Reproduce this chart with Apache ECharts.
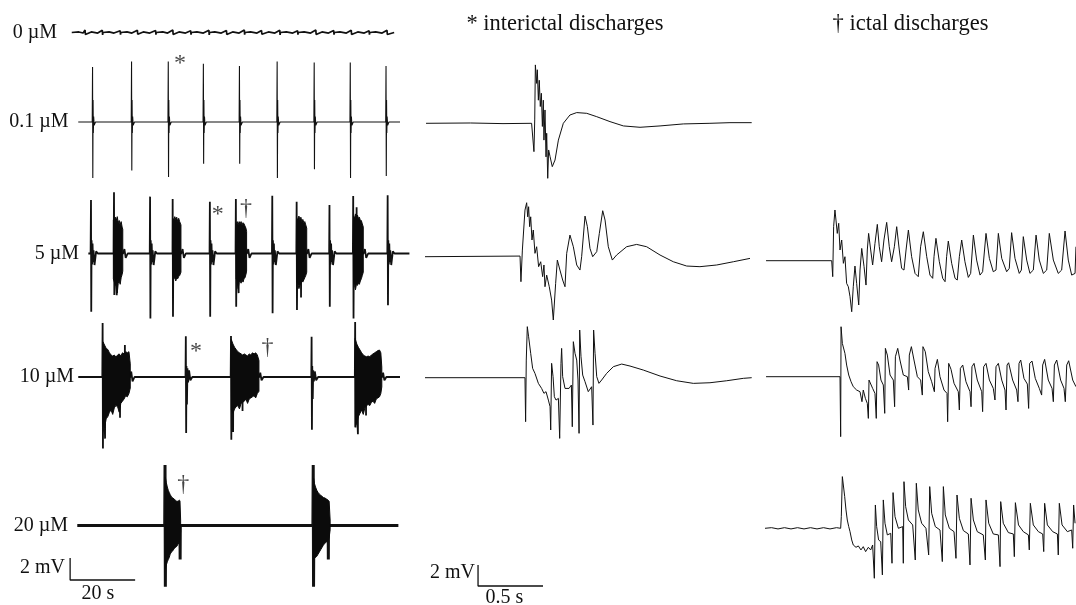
<!DOCTYPE html>
<html>
<head>
<meta charset="utf-8">
<title>Field potential recordings</title>
<script src="https://cdn.jsdelivr.net/npm/echarts@6/dist/echarts.min.js"></script>
<style>
  html, body { margin: 0; padding: 0; background: #ffffff; }
  #chart { width: 1076px; height: 605px; }
</style>
</head>
<body>
<div id="chart"></div>
<script>
// ---------- recordings: [time (s), potential (mV)] ----------
// long recordings (left column), one per concentration
const concentrations = ['0 \u00b5M', '0.1 \u00b5M', '5 \u00b5M', '10 \u00b5M', '20 \u00b5M'];

const longTrace0 = [[-1,0],[1.2,0.05],[2.5,-0.05],[3.1,0.22],[3.2,-0.18],[3.3,0],[5,0.05],[7,-0.05],[8.4,0.2],[8.5,-0.22],[8.6,0],[10.5,0.05],[12,-0.05],[13.9,0.16],[14,-0.2],[14.1,0],[16,0.05],[17.5,-0.05],[19.2,0.2],[19.3,-0.16],[19.4,0],[21,0.05],[23,-0.05],[24.8,0.18],[24.9,-0.2],[25,0],[27,0.05],[28.5,-0.05],[30.1,0.22],[30.2,-0.18],[30.3,0],[32,0.05],[34,-0.05],[35.6,0.16],[35.7,-0.2],[35.8,0],[37.5,0.05],[39.5,-0.05],[41.2,0.2],[41.3,-0.22],[41.4,0],[43,0.05],[45,-0.05],[46.6,0.18],[46.7,-0.18],[46.8,0],[48.5,0.05],[50.5,-0.05],[52.1,0.22],[52.2,-0.2],[52.3,0],[54,0.05],[56,-0.05],[57.4,0.18],[57.5,-0.16],[57.6,0],[59.5,0.05],[61.5,-0.05],[63,0.2],[63.1,-0.22],[63.2,0],[65,0.05],[67,-0.05],[68.5,0.16],[68.6,-0.2],[68.7,0],[70.5,0.05],[72.5,-0.05],[74.1,0.22],[74.2,-0.18],[74.3,0],[76,0.05],[78,-0.05],[79.6,0.18],[79.7,-0.2],[79.8,0],[81.5,0.05],[83.5,-0.05],[85,0.2],[85.1,-0.18],[85.2,0],[87,0.05],[89,-0.05],[90.5,0.16],[90.6,-0.2],[90.7,0],[92.5,0.05],[94.5,-0.05],[96,0.2],[96.1,-0.18],[96.2,0],[98.2,0]];

const longTrace01 = [[1.0,0],
  [5.3,0],[5.4,5.0],[5.48,-5.1],[5.56,2.0],[5.64,-1.0],[5.74,0.5],[5.9,-0.3],[6.3,0],
  [17.3,0],[17.4,5.5],[17.48,-4.4],[17.56,2.0],[17.64,-1.0],[17.74,0.5],[17.9,-0.3],[18.3,0],
  [28.6,0],[28.7,5.5],[28.78,-5.0],[28.86,2.0],[28.94,-1.0],[29.04,0.5],[29.2,-0.3],[29.6,0],
  [39.4,0],[39.5,5.3],[39.58,-3.8],[39.66,2.0],[39.74,-1.0],[39.84,0.5],[40.0,-0.3],[40.4,0],
  [50.5,0],[50.6,5.1],[50.68,-3.8],[50.76,2.0],[50.84,-1.0],[50.94,0.5],[51.1,-0.3],[51.5,0],
  [62.1,0],[62.2,5.5],[62.28,-5.1],[62.36,2.0],[62.44,-1.0],[62.54,0.5],[62.7,-0.3],[63.1,0],
  [73.5,0],[73.6,5.4],[73.68,-4.3],[73.76,2.0],[73.84,-1.0],[73.94,0.5],[74.1,-0.3],[74.5,0],
  [84.6,0],[84.7,5.4],[84.78,-5.1],[84.86,2.0],[84.94,-1.0],[85.04,0.5],[85.2,-0.3],[85.6,0],
  [95.6,0],[95.7,5.1],[95.78,-4.9],[95.86,2.0],[95.94,-1.0],[96.04,0.5],[96.2,-0.3],[96.6,0],
  [100,0]];

const longTrace5 = [[4.1,0],
  [4.8,0],[4.92,4.86],[5.0,-5.3],[5.1,1.2],[5.25,-1.0],[5.4,0.9],[5.55,-0.8],[5.7,0.3],[6.0,-1.05],[6.5,0.2],[7,0],
  [11.9,0],[12.0,5.56],[12.1,-3.77],[12.2,0],[12.8,0],[12.85,-3.8],[12.9,0],[14.8,0],[15.2,0.4],[15.6,-0.4],[16.2,0],
  [23.0,0],[23.1,5.17],[23.2,-5.9],[23.3,1.2],[23.45,-1.0],[23.6,0.9],[23.75,-0.8],[23.9,0.3],[24.2,-1.05],[24.7,0.2],[25.2,0],
  [30.0,0],[30.05,4.95],[30.15,-5.74],[30.25,0],[32.7,0],[33.1,0.4],[33.5,-0.4],[34.1,0],
  [41.4,0],[41.5,4.7],[41.6,-5.74],[41.7,1.2],[41.85,-1.0],[42.0,0.9],[42.15,-0.8],[42.3,0.3],[42.6,-1.05],[43.1,0.2],[43.6,0],
  [49.4,0],[49.5,4.95],[49.6,-4.83],[49.7,0],[50.3,0],[50.35,-3.6],[50.4,0],[52.9,0],[53.3,0.4],[53.7,-0.4],[54.3,0],
  [60.6,0],[60.7,5.26],[60.8,-5.44],[60.9,1.2],[61.05,-1.0],[61.2,0.9],[61.35,-0.8],[61.5,0.3],[61.8,-1.05],[62.3,0.2],[62.8,0],
  [68.1,0],[68.2,4.7],[68.3,-5.14],[68.4,0],[69.5,0],[69.55,-4.0],[69.6,0],[71.4,0],[71.8,0.4],[72.2,-0.4],[72.8,0],
  [78.2,0],[78.3,4.4],[78.4,-4.83],[78.5,1.2],[78.65,-1.0],[78.8,0.9],[78.95,-0.8],[79.1,0.3],[79.4,-1.05],[79.9,0.2],[80.4,0],
  [85.5,0],[85.6,5.23],[85.7,-5.9],[85.8,0],[86.6,0],[86.65,4.2],[86.7,0],[88.8,0],[89.2,0.4],[89.6,-0.4],[90.2,0],
  [96.1,0],[96.2,5.3],[96.3,-4.7],[96.4,1.2],[96.55,-1.0],[96.7,0.9],[96.85,-0.8],[97.0,0.3],[97.3,-1.05],[97.8,0.2],[98.3,0],
  [102.9,0]];

const longTrace10 = [[1.0,0],
  [8.4,0],[8.5,4.9],[8.6,-6.5],[8.7,0],[9.2,0],[9.25,-5.6],[9.3,0],[13.8,0],[13.85,-3.7],[13.9,0],[15.3,0],[15.35,2.9],[15.4,0],
  [17.0,0],[17.3,0.5],[17.7,-0.4],[18.3,0],
  [34.0,0],[34.1,3.7],[34.2,-5.1],[34.3,1.0],[34.45,-2.5],[34.6,0.8],[34.8,-0.5],[35.1,0.6],[35.5,-0.3],[36.1,0],
  [47.9,0],[48.0,3.73],[48.1,-5.7],[48.2,0],[48.6,0],[48.65,-5.0],[48.7,0],[51.5,0],[51.55,-3.1],[51.6,0],
  [56.7,0],[57.0,0.4],[57.4,-0.3],[58,0],
  [72.7,0],[72.8,3.66],[72.9,-4.8],[73.0,1.0],[73.15,-2.0],[73.3,0.6],[73.5,-0.4],[73.8,0.5],[74.2,-0.3],[74.8,0],
  [86.1,0],[86.2,5.0],[86.3,-4.6],[86.4,0],[87.0,0],[87.05,-5.2],[87.1,0],[89.5,0],[89.55,-3.5],[89.6,0],
  [94.5,0],[94.8,0.4],[95.2,-0.3],[95.8,0],
  [100,0]];

const longTrace20 = [[0.7,0],
  [27.6,0],[27.7,5.5],[27.8,-5.56],[27.9,0],[32.3,0],[32.35,-3.1],[32.4,0],[33.0,0],
  [73.2,0],[73.3,5.5],[73.4,-5.56],[73.5,0],[77.9,0],[77.95,-3.1],[78.0,0],[78.6,0],
  [99.5,0]];

// seizure-like bursts: sampled envelope (time, upper edge, lower edge)
const burst5Times = [
  [11.8,12.1,12.4,12.7,13.0,13.3,13.6,13.9,14.2,14.5,14.7],
  [30.1,30.4,30.7,31.0,31.3,31.6,31.9,32.2,32.6],
  [49.6,49.9,50.2,50.5,50.8,51.1,51.4,51.7,52.0,52.3,52.6,52.8],
  [68.3,68.6,68.9,69.2,69.5,69.8,70.1,70.4,70.7,71.0,71.3],
  [85.7,86.0,86.3,86.6,86.9,87.2,87.5,87.8,88.1,88.4,88.7]];
const burst5Top = [
  [3.05,2.7,3.3,3.0,3.35,2.8,3.0,2.6,2.9,2.4,2.2],
  [3.2,3.0,3.35,3.1,3.3,2.9,3.2,2.9,2.6],
  [2.7,2.9,2.6,2.9,2.7,2.9,2.6,2.8,2.7,2.5,2.3,2.0],
  [3.0,3.2,3.4,3.1,3.3,2.9,3.1,2.8,2.9,2.6,2.3],
  [3.4,3.2,3.6,3.4,3.5,3.2,3.3,3.0,3.0,2.7,2.4]];
const burst5Bottom = [
  [-2.3,-2.6,-2.9,-2.5,-3.6,-2.7,-2.5,-2.8,-2.2,-1.9,-1.6],
  [-2.0,-2.3,-2.2,-2.5,-2.2,-2.3,-2.1,-2.0,-1.7],
  [-2.3,-2.5,-3.2,-2.6,-2.5,-2.7,-2.4,-2.6,-2.3,-2.2,-1.9,-1.6],
  [-2.6,-2.8,-3.2,-2.9,-2.7,-2.5,-2.6,-2.4,-2.2,-2.0,-1.7],
  [-2.6,-2.9,-3.3,-2.8,-2.9,-2.7,-2.8,-2.5,-2.3,-2.0,-1.7]];

const burst10Times = [
  [8.6,9.1,9.6,10.1,10.6,11.1,11.6,12.1,12.6,13.1,13.6,14.1,14.6,15.1,15.6,16.1,16.6,17.0],
  [48.1,48.6,49.1,49.6,50.1,50.6,51.1,51.6,52.1,52.6,53.1,53.6,54.1,54.6,55.1,55.6,56.1,56.6],
  [86.2,86.7,87.2,87.7,88.2,88.7,89.2,89.7,90.2,90.7,91.2,91.7,92.2,92.7,93.2,93.7,94.1,94.4]];
const burst10Top = [
  [3.2,2.9,2.6,2.5,2.2,2.0,1.9,2.0,1.8,2.0,2.1,1.9,2.2,2.1,2.3,2.2,2.3,1.2],
  [3.4,3.0,2.7,2.5,2.3,2.2,2.1,2.0,2.1,2.0,1.9,2.1,2.0,2.2,2.1,2.2,2.0,1.5],
  [3.5,3.0,2.7,2.45,2.2,2.0,1.9,1.85,1.9,1.85,2.0,2.1,2.2,2.3,2.4,2.45,2.2,0.9]];
const burst10Bottom = [
  [-4.2,-4.6,-3.8,-3.6,-3.2,-3.0,-3.4,-2.8,-2.6,-2.7,-3.2,-2.4,-2.2,-2.0,-1.7,-1.8,-1.5,-1.0],
  [-3.0,-3.3,-2.9,-2.7,-2.6,-2.9,-2.4,-2.3,-2.2,-2.0,-2.4,-2.0,-1.9,-1.8,-1.7,-1.9,-1.5,-1.3],
  [-4.5,-4.2,-3.6,-3.3,-3.0,-3.4,-2.8,-2.6,-2.5,-2.6,-2.3,-2.2,-2.4,-2.0,-1.9,-1.8,-1.5,-0.9]];

const burst20Times = [
  [27.8,28.1,28.4,28.7,29.0,29.3,29.7,30.1,30.5,30.9,31.3,31.7,32.1,32.3,32.5],
  [73.4,73.7,74.0,74.4,74.8,75.2,75.6,76.0,76.4,76.9,77.4,77.9,78.2,78.5]];
const burst20Top = [
  [4.4,3.9,3.5,3.2,3.0,2.8,2.6,2.5,2.4,2.3,2.2,2.2,2.3,2.25,0.5],
  [4.3,3.8,3.5,3.2,3.0,2.85,2.75,2.65,2.55,2.5,2.4,2.3,2.2,0.5]];
const burst20Bottom = [
  [-3.9,-3.6,-3.3,-3.1,-2.9,-2.6,-2.4,-2.3,-2.1,-2.0,-1.9,-1.7,-1.5,-1.3,-0.56],
  [-3.1,-3.0,-2.9,-2.8,-2.6,-2.4,-2.2,-2.0,-1.8,-1.6,-1.5,-1.3,-1.1,-0.4]];

// expanded single events
const interictal01 = [[0.008,0],[0.35,0.03],[0.6,-0.03],[0.82,0],[0.833,-0.06],[0.838,-2.7],[0.844,0.32],[0.849,5.56],[0.854,5.65],[0.859,3.8],[0.864,5.1],[0.872,2.2],[0.879,4.1],[0.887,1.6],[0.895,2.86],[0.903,-0.3],[0.91,2.2],[0.915,-1.6],[0.923,1.27],[0.931,-3.2],[0.936,-0.95],[0.944,-5.24],[0.951,-2.54],[0.962,-3.17],[0.979,-4.13],[1.0,-3.5],[1.026,-1.6],[1.064,0],[1.115,0.79],[1.167,1.02],[1.244,0.95],[1.321,0.63],[1.423,0.16],[1.526,-0.25],[1.654,-0.38],[1.808,-0.25],[1.987,-0.06],[2.192,0],[2.346,0.06],[2.513,0.06]];

const interictal5 = [[0,0],[0.731,0.06],[0.738,-2.38],[0.749,0.63],[0.769,4.44],[0.782,5.14],[0.79,3.8],[0.797,4.76],[0.805,2.86],[0.813,3.8],[0.823,1.59],[0.833,2.54],[0.846,0.32],[0.859,0.95],[0.874,-0.95],[0.89,-0.48],[0.905,-1.9],[0.915,-0.79],[0.923,-2.86],[0.936,-1.75],[0.956,-2.86],[0.974,-4.13],[0.987,-6.03],[1.005,-2.54],[1.018,-0.32],[1.038,-1.27],[1.059,-2.22],[1.077,-2.86],[1.09,0.32],[1.115,2.06],[1.141,0.95],[1.167,-0.79],[1.192,-1.27],[1.205,0],[1.231,3.87],[1.249,2.86],[1.269,0.79],[1.29,0],[1.321,0.48],[1.341,2.22],[1.367,4.38],[1.385,3.49],[1.41,0.95],[1.441,-0.32],[1.474,0.16],[1.551,0.95],[1.628,1.17],[1.705,0.95],[1.808,0.16],[1.91,-0.48],[2.013,-0.89],[2.115,-0.95],[2.244,-0.79],[2.372,-0.48],[2.5,-0.16]];

const interictal10 = [[0,0],[0.769,0],[0.774,-4.19],[0.779,1.68],[0.787,4.86],[0.797,3.9],[0.813,2.32],[0.828,0.89],[0.846,0.41],[0.872,-0.54],[0.897,-1.02],[0.915,-1.49],[0.931,-1.33],[0.949,-2.13],[0.962,-2.76],[0.967,-4.98],[0.974,1.37],[0.985,0.1],[0.995,-1.81],[1.008,-2.13],[1.026,-1.97],[1.036,-5.78],[1.046,1.37],[1.051,2.79],[1.059,0.1],[1.077,-1.02],[1.108,-1.02],[1.126,-0.7],[1.133,-4.67],[1.141,3.43],[1.154,2.32],[1.167,1.68],[1.177,-0.22],[1.185,-5.3],[1.19,4.54],[1.2,2.0],[1.213,0.25],[1.231,-0.38],[1.256,-1.33],[1.282,-0.86],[1.292,-4.51],[1.297,4.54],[1.308,2.32],[1.321,0.1],[1.338,-0.54],[1.359,-0.22],[1.397,0.41],[1.449,1.05],[1.513,1.3],[1.577,1.11],[1.679,0.73],[1.808,0.16],[1.936,-0.29],[2.064,-0.54],[2.192,-0.48],[2.321,-0.29],[2.449,-0.06],[2.513,0]];

const ictal5 = [[0.008,0],[0.513,0],[0.521,-1.52],[0.528,3.24],[0.538,4.83],[0.546,3.87],[0.556,2.6],[0.567,3.56],[0.577,1.02],[0.59,1.97],[0.603,-0.25],[0.615,0.38],[0.628,-2.16],[0.641,-2.48],[0.654,-3.43],[0.667,-4.86],[0.679,-2.48],[0.692,-0.51],[0.705,-2.16],[0.721,-4.22],[0.731,-0.89],[0.744,1.17],[0.762,-0.57],[0.777,-2.32],[0.787,1.02],[0.797,2.6],[0.813,1.02],[0.828,-0.41],[0.846,1.65],[0.864,3.46],[0.879,1.33],[0.897,-0.1],[0.915,1.97],[0.936,3.65],[0.956,1.33],[0.974,-0.1],[0.995,1.33],[1.013,3.24],[1.033,1.02],[1.051,-0.73],[1.069,-0.89],[1.085,1.02],[1.103,2.92],[1.128,0.38],[1.154,-1.21],[1.179,-1.52],[1.197,1.33],[1.218,2.76],[1.244,0.38],[1.269,-1.37],[1.29,-1.68],[1.3,0.38],[1.315,2.13],[1.341,-0.1],[1.367,-1.68],[1.385,-2.0],[1.397,0.38],[1.41,1.87],[1.436,-0.25],[1.462,-1.68],[1.479,-1.84],[1.495,0.38],[1.513,1.97],[1.538,-0.1],[1.564,-1.59],[1.582,-1.21],[1.603,2.44],[1.628,0.06],[1.654,-1.37],[1.674,-1.05],[1.7,2.6],[1.726,0.22],[1.756,-1.05],[1.777,-0.89],[1.795,2.6],[1.821,0.22],[1.859,-1.05],[1.879,-0.73],[1.897,2.67],[1.923,0.22],[1.956,-1.21],[1.972,-0.89],[1.987,2.29],[2.013,0.06],[2.038,-1.21],[2.064,-0.89],[2.085,2.44],[2.11,0.06],[2.141,-1.21],[2.167,-0.89],[2.187,2.6],[2.218,0.06],[2.256,-1.21],[2.282,-0.89],[2.308,2.83],[2.333,0.06],[2.359,-1.37],[2.385,-1.21],[2.392,1.33]];

const ictal10 = [[0.008,0],[0.577,0],[0.582,-5.71],[0.585,4.76],[0.595,3.17],[0.606,3.33],[0.615,2.22],[0.628,1.11],[0.644,0.16],[0.662,-0.48],[0.679,-0.95],[0.705,-1.27],[0.731,-1.43],[0.746,-2.38],[0.756,-1.27],[0.772,-2.06],[0.787,-2.54],[0.795,-3.97],[0.8,-0.32],[0.813,-0.16],[0.828,-1.11],[0.846,-1.59],[0.856,-3.97],[0.862,1.43],[0.874,1.11],[0.892,-0.32],[0.91,-0.79],[0.921,-3.49],[0.926,2.7],[0.941,2.06],[0.962,0.16],[0.987,-0.32],[0.997,-2.86],[1.003,1.9],[1.021,2.7],[1.038,1.59],[1.064,0.16],[1.095,0],[1.105,-1.27],[1.11,2.06],[1.126,2.86],[1.146,1.59],[1.172,0],[1.197,-0.32],[1.21,-1.75],[1.215,2.86],[1.233,2.38],[1.256,0.48],[1.282,-0.48],[1.303,-1.43],[1.308,0.79],[1.326,1.65],[1.346,0],[1.377,-1.27],[1.4,-1.59],[1.405,-4.29],[1.413,1.27],[1.431,0.7],[1.454,-0.63],[1.487,-1.43],[1.495,-3.17],[1.503,0.79],[1.521,1.11],[1.546,-0.48],[1.577,-1.43],[1.585,-2.86],[1.592,0.95],[1.608,1.27],[1.633,-0.32],[1.667,-1.43],[1.674,-3.33],[1.682,0.95],[1.7,1.27],[1.726,-0.32],[1.756,-1.11],[1.769,-2.22],[1.777,0.95],[1.795,1.27],[1.821,-0.32],[1.846,-1.27],[1.854,-3.17],[1.862,1.11],[1.874,1.33],[1.905,-0.32],[1.936,-1.27],[1.946,-2.38],[1.954,1.27],[1.967,1.59],[1.992,-0.16],[2.018,-0.7],[2.028,-3.02],[2.036,1.27],[2.054,1.49],[2.079,-0.16],[2.11,-1.11],[2.128,-1.75],[2.136,1.11],[2.151,1.65],[2.179,-0.32],[2.208,-1.11],[2.218,-2.38],[2.226,1.11],[2.244,1.59],[2.274,-0.32],[2.3,-1.11],[2.31,-2.38],[2.321,1.11],[2.336,1.52],[2.367,-0.32],[2.392,-0.95]];

const ictal20 = [[0,0],[0.05,0.06],[0.1,-0.06],[0.15,0.06],[0.2,-0.06],[0.25,0.06],[0.3,-0.06],[0.35,0.06],[0.4,-0.06],[0.45,0.06],[0.5,-0.06],[0.55,0.06],[0.582,0],[0.587,1.11],[0.595,4.92],[0.603,4.76],[0.613,3.02],[0.623,1.75],[0.633,0.79],[0.644,0.16],[0.654,-0.32],[0.667,-1.11],[0.679,-1.59],[0.7,-1.81],[0.718,-1.68],[0.738,-2.06],[0.756,-1.75],[0.774,-2.22],[0.795,-1.81],[0.813,-2.06],[0.828,-1.59],[0.838,-1.75],[0.841,-4.76],[0.849,2.22],[0.859,0.16],[0.874,-1.11],[0.89,-1.27],[0.903,-4.44],[0.91,2.7],[0.923,0.48],[0.941,-0.63],[0.967,-0.48],[0.977,-3.33],[0.985,3.4],[1.0,1.11],[1.026,0],[1.059,0.16],[1.064,-3.33],[1.069,4.44],[1.082,2.06],[1.103,0.79],[1.136,0.32],[1.156,-3.02],[1.164,4.29],[1.179,1.75],[1.205,0.48],[1.238,0],[1.259,-2.54],[1.267,3.97],[1.282,1.43],[1.31,0.16],[1.346,-0.16],[1.364,-3.17],[1.372,3.97],[1.387,1.27],[1.418,0],[1.454,-0.32],[1.469,-2.86],[1.477,3.17],[1.495,0.95],[1.526,-0.22],[1.564,-0.54],[1.577,-3.49],[1.585,2.86],[1.603,0.79],[1.633,-0.32],[1.679,-0.63],[1.695,-3.02],[1.7,2.7],[1.721,0.48],[1.756,-0.54],[1.795,-0.63],[1.808,-3.65],[1.813,2.54],[1.833,0.48],[1.872,-0.41],[1.91,-0.54],[1.918,-2.7],[1.926,2.44],[1.95,0.32],[1.987,-0.32],[2.026,-0.63],[2.033,-2.06],[2.041,2.38],[2.064,0.32],[2.103,-0.32],[2.136,-0.54],[2.144,-2.22],[2.151,2.38],[2.172,0.32],[2.213,-0.32],[2.249,-0.54],[2.256,-2.54],[2.264,2.38],[2.285,0.32],[2.326,-0.32],[2.359,-0.16],[2.367,-1.9],[2.374,2.22],[2.385,0.48]];

// event markers: [time (s), potential (mV), symbol]
const marks01 = [[32.3, 5.3, '*']];
const marks5  = [[43.9, 3.55, '*'], [52.6, 4.1, '\u2020']];
const marks10 = [[37.2, 2.3, '*'], [59.2, 2.65, '\u2020']];
const marks20 = [[33.3, 3.74, '\u2020']];

// calibration bars: 2 mV by 20 s (long), 2 mV by 0.5 s (expanded)
const longCalibration = [[-1.5, 2], [-1.5, 0], [18.5, 0]];
const shortCalibration = [[0.408, 2], [0.408, 0], [0.908, 0]];

const titles = ['* interictal discharges', '\u2020 ictal discharges'];

// ---------- layout ----------
const FONT = '"Liberation Serif", "Times New Roman", serif';
const INK = '#111111';
const grids = [], xAxes = [], yAxes = [], series = [];

function panel(left, width, xmin, xmax, top, height, ymin, ymax) {
  grids.push({ left: left, top: top, width: width, height: height, outerBoundsMode: 'none', containLabel: false });
  const i = grids.length - 1;
  xAxes.push({ type: 'value', gridIndex: i, min: xmin, max: xmax, show: false });
  yAxes.push({ type: 'value', gridIndex: i, min: ymin, max: ymax, show: false });
  return i;
}

function line(i, data, width, color) {
  series.push({
    type: 'line', xAxisIndex: i, yAxisIndex: i, data: data,
    showSymbol: false, symbol: 'none', silent: true, animation: false, clip: false,
    lineStyle: { color: color || INK, width: width }, z: 2
  });
}

function bursts(i, times, tops, bottoms) {
  series.push({
    type: 'custom', xAxisIndex: i, yAxisIndex: i, coordinateSystem: 'cartesian2d',
    data: times.map(function (ts, k) { return [ts[0], 0, k]; }),
    silent: true, animation: false, clip: false, z: 3,
    renderItem: function (params, api) {
      const k = api.value(2);
      const ts = times[k], up = tops[k], dn = bottoms[k];
      const upper = ts.map(function (t, j) { return api.coord([t, up[j]]); });
      const lower = ts.map(function (t, j) { return api.coord([t, dn[j]]); }).reverse();
      return { type: 'polygon', shape: { points: upper.concat(lower) },
               style: { fill: '#0b0b0b', stroke: '#0b0b0b', lineWidth: 1 } };
    }
  });
}

function marks(i, data) {
  series.push({
    type: 'scatter', xAxisIndex: i, yAxisIndex: i, data: data,
    symbolSize: 1, itemStyle: { color: 'rgba(0,0,0,0)' }, silent: true, animation: false, z: 4,
    label: { show: true, position: 'inside', formatter: function (p) { return p.value[2]; },
             color: '#151515', fontFamily: FONT, fontSize: 24 }
  });
}

// left column: 3.25 px per second, 11 px per mV
const LX = 68.5, LW = 344.5, LMIN = -2, LMAX = 104, LPX = 11;
const leftBase = [32.5, 122, 253.5, 377, 525.5];
const leftRange = [2, 7, 7, 7, 7];
const leftPanels = leftBase.map(function (b, r) {
  return panel(LX, LW, LMIN, LMAX, b - leftRange[r] * LPX, 2 * leftRange[r] * LPX, -leftRange[r], leftRange[r]);
});
line(leftPanels[0], longTrace0, 1.7);
line(leftPanels[1], longTrace01, 1.1);
line(leftPanels[2], longTrace5, 1.8);
line(leftPanels[3], longTrace10, 1.8);
line(leftPanels[4], longTrace20, 3);
bursts(leftPanels[2], burst5Times, burst5Top, burst5Bottom);
bursts(leftPanels[3], burst10Times, burst10Top, burst10Bottom);
bursts(leftPanels[4], burst20Times, burst20Top, burst20Bottom);
marks(leftPanels[1], marks01);
marks(leftPanels[2], marks5);
marks(leftPanels[3], marks10);
marks(leftPanels[4], marks20);
const leftBar = panel(LX, LW, LMIN, LMAX, 558, 22, 0, 2);
line(leftBar, longCalibration, 1.3);

// middle and right columns: 130 px per second, 10.5 px per mV
const MPX = 10.5;
const midBase = [123.3, 256.7, 377.7];
const midTraces = [interictal01, interictal5, interictal10];
midBase.forEach(function (b, r) {
  const i = panel(425, 338, 0, 2.6, b - 7 * MPX, 14 * MPX, -7, 7);
  line(i, midTraces[r], 1);
});
const midBar = panel(425, 338, 0, 2.6, 565, 21, 0, 2);
line(midBar, shortCalibration, 1.3);

const rightBase = [260.7, 376.7, 528.3];
const rightTraces = [ictal5, ictal10, ictal20];
rightBase.forEach(function (b, r) {
  const i = panel(765, 312, 0, 2.4, b - 7 * MPX, 14 * MPX, -7, 7);
  line(i, rightTraces[r], 1);
});

// ---------- text ----------
function text(str, x, y, size) {
  return { type: 'text', x: x, y: y, silent: true,
           style: { text: str, font: size + 'px ' + FONT, fill: INK, align: 'center', verticalAlign: 'middle' } };
}
const labelX = [35, 39, 57, 47, 41];
const graphics = concentrations.map(function (c, r) { return text(c, labelX[r], leftBase[r], 20); });
graphics.push(text('2 mV', 42.5, 568, 20));
graphics.push(text('20 s', 98, 594, 20));
graphics.push(text('2 mV', 452.5, 573, 20));
graphics.push(text('0.5 s', 504.5, 598, 20));
graphics.push(text(titles[0], 565, 24, 22.5));
graphics.push(text(titles[1], 910.5, 24, 22.5));

const chart = echarts.init(document.getElementById('chart'), null, { renderer: 'canvas' });
chart.setOption({
  backgroundColor: '#ffffff',
  animation: false,
  grid: grids,
  xAxis: xAxes,
  yAxis: yAxes,
  series: series,
  graphic: graphics
});
</script>
</body>
</html>
